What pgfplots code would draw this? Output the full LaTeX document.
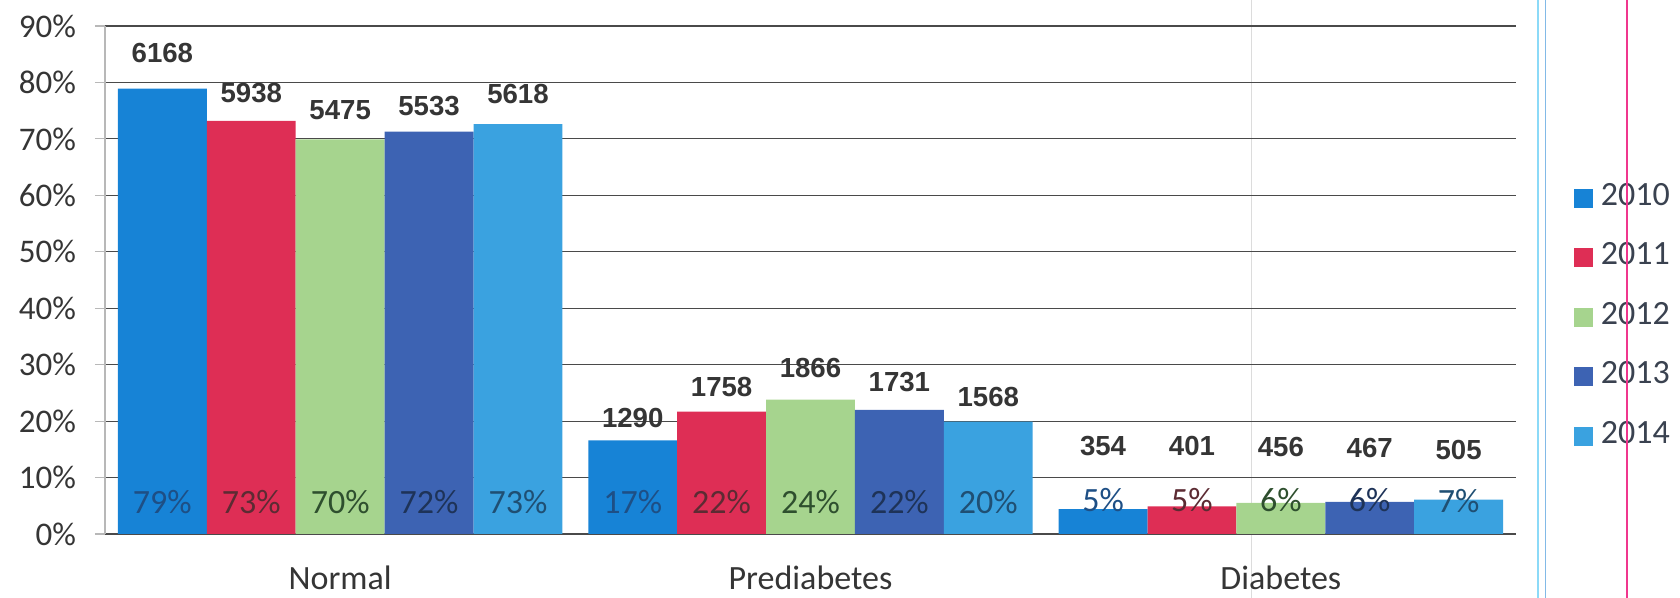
\documentclass[border=0pt]{standalone}
\usepackage{pgfplots}
\pgfplotsset{compat=1.18}
\usepackage{fontspec}
\setmainfont{Carlito}
\newfontfamily\arialfont{Liberation Sans}
\definecolor{c2010}{HTML}{1783D6}
\definecolor{c2011}{HTML}{DE2E55}
\definecolor{c2012}{HTML}{A6D48E}
\definecolor{c2013}{HTML}{3D63B3}
\definecolor{c2014}{HTML}{3AA2E0}
\definecolor{p2010}{HTML}{1E4F85}
\definecolor{p2011}{HTML}{5C2B33}
\definecolor{p2012}{HTML}{2E4F2E}
\definecolor{p2013}{HTML}{1E3358}
\definecolor{p2014}{HTML}{1F4F73}
\definecolor{tickc}{HTML}{353535}
\definecolor{legc}{HTML}{3A4250}
\definecolor{gridc}{HTML}{4A4A4A}
\definecolor{yaxc}{HTML}{B8B8B8}
\pgfplotstableread{
x y2010 y2011 y2012 y2013 y2014
0 78.9 73.2 69.9 71.3 72.6
1 16.6 21.7 23.8 22.0 19.9
2 4.4 4.9 5.5 5.7 6.1
}\bars
\pgfplotstableread{
x y lab
-0.378 85.2 6168
-0.189 78.2 5938
0.000 75.1 5475
0.189 75.9 5533
0.378 77.9 5618
0.622 20.5 1290
0.811 26.0 1758
1.000 29.4 1866
1.189 26.9 1731
1.378 24.2 1568
1.622 15.6 354
1.811 15.6 401
2.000 15.4 456
2.189 15.3 467
2.378 14.8 505
}\counts
\begin{document}
\begin{tikzpicture}
\path[use as bounding box] (0pt,0pt) rectangle (840pt,299pt);
\draw[yaxc!50, line width=0.5pt] (625.5pt,0pt) -- (625.5pt,299pt);
\begin{axis}[
  at={(52.5pt,32pt)}, anchor=south west,
  scale only axis, width=705.5pt, height=254pt,
  xmin=-0.5, xmax=2.5, ymin=0, ymax=90,
  axis lines=left, axis line style={-},
  x axis line style={draw=gridc, line width=0.6pt},
  y axis line style={draw=yaxc, line width=0.6pt},
  ytick={0,10,...,90},
  yticklabel={\pgfmathprintnumber{\tick}\%},
  /pgf/number format/assume math mode=true,
  ymajorgrids, grid style={draw=gridc, line width=0.6pt},
  xtick={0,1,2}, xticklabels={Normal,Prediabetes,Diabetes},
  x tick style={draw=none},
  y tick style={draw=yaxc, line width=0.6pt},
  tick align=outside, major tick length=5pt,
  yticklabel style={font=\fontsize{16.5}{18}\selectfont, text=tickc, xshift=-6pt},
  xticklabel style={font=\fontsize{17}{19}\selectfont, text=tickc, anchor=center, yshift=-17pt},
  legend style={at={(1.0365,0.433)}, anchor=west, draw=none, fill=none,
    font=\fontsize{17}{19}\selectfont, text=legc,
    nodes={inner sep=0pt, text height=11.5pt, text depth=0pt},
    row sep=17pt, column sep=4pt},
  legend cell align=left,
  legend image code/.code={\fill[#1] (0pt,-7pt) rectangle (9.5pt,2.5pt);},
]
\addplot[ybar, bar width=0.189, bar shift=-0.378, fill=c2010, draw=none] table[x=x, y=y2010] {\bars};
\addplot[ybar, bar width=0.189, bar shift=-0.189, fill=c2011, draw=none] table[x=x, y=y2011] {\bars};
\addplot[ybar, bar width=0.189, bar shift=0, fill=c2012, draw=none] table[x=x, y=y2012] {\bars};
\addplot[ybar, bar width=0.189, bar shift=0.189, fill=c2013, draw=none] table[x=x, y=y2013] {\bars};
\addplot[ybar, bar width=0.189, bar shift=0.378, fill=c2014, draw=none] table[x=x, y=y2014] {\bars};
\legend{2010,2011,2012,2013,2014}
% count labels
\addplot[draw=none, mark=none, nodes near coords, point meta=explicit symbolic,
  every node near coord/.style={anchor=center, text=tickc, font=\arialfont\bfseries\fontsize{13.8}{15}\selectfont}]
  table[x=x, y=y, meta=lab] {\counts};
% percent labels
\addplot[draw=none, mark=none, nodes near coords, point meta=explicit symbolic,
  every node near coord/.style={anchor=center, text=p2010, font=\fontsize{17}{19}\selectfont}]
  table[meta=lab, row sep=\\] {x y lab\\ -0.378 5.7 79\%\\ 0.622 5.7 17\%\\ 1.622 6.1 5\%\\};
\addplot[draw=none, mark=none, nodes near coords, point meta=explicit symbolic,
  every node near coord/.style={anchor=center, text=p2011, font=\fontsize{17}{19}\selectfont}]
  table[meta=lab, row sep=\\] {x y lab\\ -0.189 5.7 73\%\\ 0.811 5.7 22\%\\ 1.811 6.1 5\%\\};
\addplot[draw=none, mark=none, nodes near coords, point meta=explicit symbolic,
  every node near coord/.style={anchor=center, text=p2012, font=\fontsize{17}{19}\selectfont}]
  table[meta=lab, row sep=\\] {x y lab\\ 0 5.7 70\%\\ 1 5.7 24\%\\ 2 6.0 6\%\\};
\addplot[draw=none, mark=none, nodes near coords, point meta=explicit symbolic,
  every node near coord/.style={anchor=center, text=p2013, font=\fontsize{17}{19}\selectfont}]
  table[meta=lab, row sep=\\] {x y lab\\ 0.189 5.7 72\%\\ 1.189 5.7 22\%\\ 2.189 6.0 6\%\\};
\addplot[draw=none, mark=none, nodes near coords, point meta=explicit symbolic,
  every node near coord/.style={anchor=center, text=p2014, font=\fontsize{17}{19}\selectfont}]
  table[meta=lab, row sep=\\] {x y lab\\ 0.378 5.7 73\%\\ 1.378 5.7 20\%\\ 2.378 5.9 7\%\\};
\end{axis}
\draw[cyan!45, line width=0.6pt] (769pt,0pt) -- (769pt,299pt);
\draw[cyan!70!blue!50, line width=0.5pt] (772.5pt,0pt) -- (772.5pt,299pt);
\draw[magenta!80!red!80, line width=0.8pt] (813.5pt,0pt) -- (813.5pt,299pt);
\end{tikzpicture}
\end{document}
